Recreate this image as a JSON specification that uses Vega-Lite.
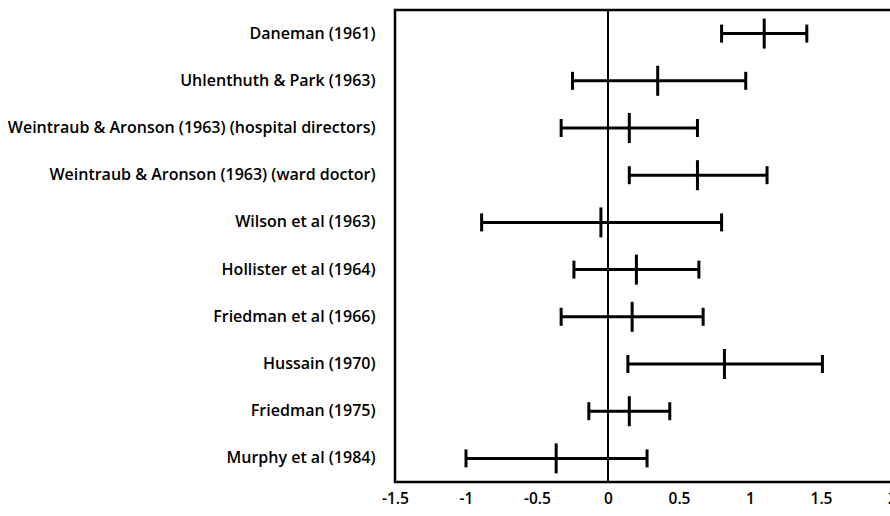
{
  "$schema": "https://vega.github.io/schema/vega-lite/v6.json",
  "autosize": {"type": "none"},
  "padding": {"left": 395, "top": 10, "right": 0, "bottom": 34},
  "width": 497,
  "height": 472,
  "background": "white",
  "config": {
    "view": {"stroke": "black", "strokeWidth": 2.5},
    "font": "Open Sans"
  },
  "data": {
    "values": [
      {"study": "Daneman (1961)", "lo": 0.80, "est": 1.10, "hi": 1.40},
      {"study": "Uhlenthuth & Park (1963)", "lo": -0.25, "est": 0.35, "hi": 0.97},
      {"study": "Weintraub & Aronson (1963) (hospital directors)", "lo": -0.33, "est": 0.15, "hi": 0.63},
      {"study": "Weintraub & Aronson (1963) (ward doctor)", "lo": 0.15, "est": 0.63, "hi": 1.12},
      {"study": "Wilson et al (1963)", "lo": -0.89, "est": -0.05, "hi": 0.80},
      {"study": "Hollister et al (1964)", "lo": -0.24, "est": 0.20, "hi": 0.64},
      {"study": "Friedman et al (1966)", "lo": -0.33, "est": 0.17, "hi": 0.67},
      {"study": "Hussain (1970)", "lo": 0.14, "est": 0.82, "hi": 1.51},
      {"study": "Friedman (1975)", "lo": -0.135, "est": 0.15, "hi": 0.435},
      {"study": "Murphy et al (1984)", "lo": -1.0, "est": -0.365, "hi": 0.275}
    ]
  },
  "encoding": {
    "y": {
      "field": "study",
      "type": "nominal",
      "sort": null,
      "title": null,
      "scale": {"paddingInner": 0, "paddingOuter": 0},
      "axis": {
        "ticks": false,
        "domain": false,
        "labelFont": "Open Sans",
        "labelFontSize": 16,
        "labelFontWeight": 600,
        "labelColor": "black",
        "labelPadding": 20,
        "labelLimit": 500
      }
    }
  },
  "layer": [
    {
      "mark": {"type": "rule", "color": "black", "strokeWidth": 2},
      "encoding": {
        "x": {"datum": 0, "type": "quantitative"},
        "y": null
      }
    },
    {
      "mark": {"type": "rule", "color": "black", "strokeWidth": 3},
      "encoding": {
        "x": {
          "field": "lo",
          "type": "quantitative",
          "title": null,
          "scale": {"domain": [-1.5, 2.0], "nice": false, "zero": false},
          "axis": {
            "values": [-1.5, -1, -0.5, 0, 0.5, 1, 1.5, 2],
            "labelExpr": "'' + datum.value",
            "ticks": false,
            "domain": false,
            "grid": false,
            "labelFont": "Open Sans",
            "labelFontSize": 15.5,
            "labelFontWeight": 600,
            "labelColor": "black",
            "labelPadding": 9,
            "labelFlush": false
          }
        },
        "x2": {"field": "hi"}
      }
    },
    {
      "mark": {"type": "tick", "color": "black", "opacity": 1, "thickness": 3, "size": 18, "orient": "vertical"},
      "encoding": {"x": {"field": "lo", "type": "quantitative"}}
    },
    {
      "mark": {"type": "tick", "color": "black", "opacity": 1, "thickness": 3, "size": 18, "orient": "vertical"},
      "encoding": {"x": {"field": "hi", "type": "quantitative"}}
    },
    {
      "mark": {"type": "tick", "color": "black", "opacity": 1, "thickness": 3, "size": 30, "orient": "vertical"},
      "encoding": {"x": {"field": "est", "type": "quantitative"}}
    }
  ]
}
